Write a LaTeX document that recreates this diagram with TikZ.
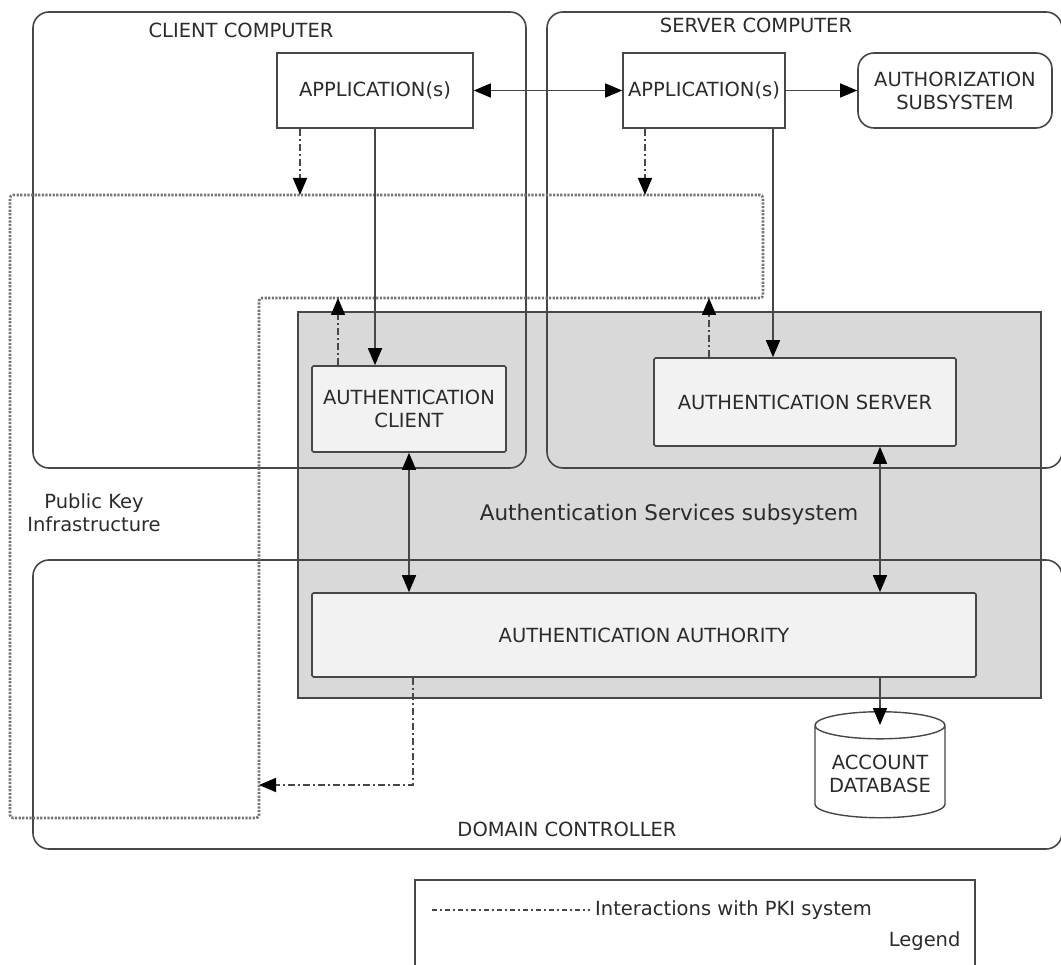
\documentclass[tikz,border=0pt]{standalone}
\usepackage{fontspec}
\setmainfont{DejaVu Sans}
\usetikzlibrary{shapes.geometric}
\usetikzlibrary{arrows.meta}
\usetikzlibrary{calc}

\definecolor{linec}{HTML}{474747}
\definecolor{txtc}{HTML}{2B2B2B}
\definecolor{subsysc}{HTML}{D9D9D9}
\definecolor{innerc}{HTML}{F2F2F2}

\tikzset{
  every node/.style={font=\fontsize{19.5}{23}\selectfont, text=txtc},
  frame/.style={draw=linec, line width=1.6pt, rounded corners=16pt, minimum width=#1},
  blk/.style={draw=linec, line width=1.6pt, fill=white, minimum width=#1, align=center},
  inner/.style={blk=#1, fill=innerc, rounded corners=1.5pt},
  subsys/.style={draw=linec, line width=1.6pt, fill=subsysc, minimum width=#1},
  arr/.style={draw=linec, line width=1.6pt, -{Triangle[length=17pt,width=14pt,color=black]}},
  dblarr/.style={draw=linec, line width=1.6pt,
    {Triangle[length=17pt,width=14pt,color=black]}-{Triangle[length=17pt,width=14pt,color=black]}},
  pkiarr/.style={arr, dash pattern=on 7pt off 3pt on 2pt off 3pt},
  pki/.style={draw=linec!75, line width=2.6pt, dash pattern=on 2.2pt off 1.4pt, rounded corners=3pt}
}

\begin{document}
\begin{tikzpicture}[x=1pt, y=-1pt]
\useasboundingbox (0,0) rectangle (1061,965);

\node[subsys=743pt, minimum height=386pt] (ass) at (669.5,505) {};
\node[frame=493pt, minimum height=456pt] (cc) at (279.5,240) {};
\node[frame=515pt, minimum height=456pt] (sc) at (804.5,240) {};
\node[frame=1029pt, minimum height=289pt] (dc) at (547.5,704.5) {};

\node (cclbl) at (241,30) {CLIENT COMPUTER};
\node (sclbl) at (756,25) {SERVER COMPUTER};
\node (dclbl) at (567,829) {DOMAIN CONTROLLER};
\node (asslbl) at (669,515) {\fontsize{21.5}{25}\selectfont Authentication Services subsystem};
\node[align=center] (pkilbl) at (94,513) {Public Key\\Infrastructure};

% PKI outline
\draw[pki] (10,195) -- (763,195) -- (763,298) -- (259,298) -- (259,818) -- (10,818) -- cycle;

\node[blk=196pt, minimum height=75pt] (capp) at (375,90.5) {APPLICATION(s)};
\node[blk=162pt, minimum height=75pt] (sapp) at (704,90.5) {APPLICATION(s)};
\node[blk=194pt, minimum height=75pt, rounded corners=16pt] (authz) at (955,90.5) {AUTHORIZATION\\SUBSYSTEM};
\node[inner=194pt, minimum height=86pt] (aclient) at (409,409) {AUTHENTICATION\\CLIENT};
\node[inner=302pt, minimum height=88pt] (aserver) at (805,402) {AUTHENTICATION SERVER};
\node[inner=664pt, minimum height=84pt] (aauth) at (644,635) {AUTHENTICATION AUTHORITY};
\node[draw=linec, line width=1.4pt, fill=white, shape=cylinder, shape border rotate=90, aspect=0.25,
      minimum width=130pt, minimum height=106pt, align=center] (db) at (880,774) {ACCOUNT\\DATABASE};

\coordinate (k1) at (300,195);
\coordinate (k2) at (645,195);
\coordinate (k3) at (338,298);
\coordinate (k4) at (709,298);
\coordinate (k5) at (413,785);
\coordinate (k6) at (259,785);
\coordinate (k7) at (773,0);

\draw[dblarr] (capp) -- (sapp);
\draw[arr] (sapp) -- (authz);
\draw[arr] (capp.south) -- (capp.south |- aclient.north);
\draw[arr] (sapp.south -| k7) -- (aserver.north -| k7);
\draw[dblarr] (aclient.south) -- (aclient.south |- aauth.north);
\draw[dblarr] (aserver.south -| db.north) -- (aauth.north -| db.north);
\draw[arr, shorten >=-14pt] (aauth.south -| db.north) -- (db.north);

\draw[pkiarr] (capp.south -| k1) -- (k1);
\draw[pkiarr] (sapp.south -| k2) -- (k2);
\draw[pkiarr] (aclient.north -| k3) -- (k3);
\draw[pkiarr] (aserver.north -| k4) -- (k4);
\draw[pkiarr] (aauth.south -| k5) -- (k5) -- (k6);

% legend
\node[draw=linec, line width=1.6pt, minimum width=560pt, minimum height=100pt] (leg) at (695,930) {};
\coordinate (l1) at (432,910);
\coordinate (l2) at (590,910);
\draw[draw=linec, line width=1.4pt, dash pattern=on 5pt off 3pt on 2pt off 3pt] (l1) -- (l2);
\node[anchor=west, inner sep=5pt] (legtxt) at (l2) {Interactions with PKI system};
\node[anchor=east] (leglbl) at (964,941) {Legend};
%\draw[pkiarr] (leg.north) -- (aauth.south);
\end{tikzpicture}
\end{document}
